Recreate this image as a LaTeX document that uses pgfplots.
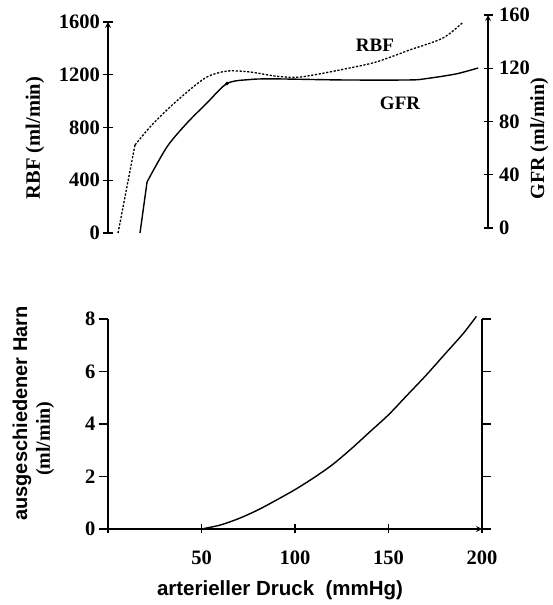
\documentclass[border=0pt]{standalone}
\usepackage{fontspec}
\setmainfont{Liberation Serif}
\setsansfont{Liberation Sans}
\usepackage{pgfplots}
\pgfplotsset{compat=1.18}

\pgfplotsset{
  phys/.style={
    scale only axis,
    axis line style={-, line width=1.6pt},
    x axis line style={-}, y axis line style={-},
    every outer x axis line/.append style={-},
    every inner x axis line/.append style={-},
    major tick style={line width=1.4pt, black},
    major tick length=9pt,
    tick align=outside,
    ticklabel style={font=\bfseries\fontsize{20.5}{22}\selectfont},
    /pgf/number format/assume math mode=true,
    /pgf/number format/1000 sep={},
    clip=false,
  },
}

\begin{document}
\begin{tikzpicture}
\useasboundingbox (0pt,0pt) rectangle (552pt,605pt);

% oberes Diagramm: RBF (linke Achse)
\begin{axis}[phys,
  at={(108pt,372pt)}, width=380pt, height=211pt,
  xmin=0, xmax=204.3, ymin=0, ymax=1600,
  axis x line=none, axis y line=left,
  ytick={0,400,800,1200,1600},
]
\addplot[black, line width=1.3pt, dash pattern=on 2.2pt off 1.6pt] coordinates {
  (5.4,0)(14.5,667)
};
\addplot[black, line width=1.3pt, dash pattern=on 2.2pt off 1.6pt, smooth, tension=0.5] coordinates {
  (14.5,667)(22.6,804)(31.7,933)(42.5,1069)(53.2,1183)(64,1228)(76.3,1221)
  (89.8,1190)(100,1180)(108,1192)(126,1240)(144,1296)(162,1387)(180,1478)(191,1600)
};
\node[font=\bfseries\fontsize{19}{21}\selectfont] at (axis cs:143.5,1425) {RBF};
\node[font=\bfseries\fontsize{20.5}{22}\selectfont, rotate=90]
  at (axis description cs:-0.192,0.45) {RBF (ml/min)};
\end{axis}

% oberes Diagramm: GFR (rechte Achse)
\begin{axis}[phys,
  at={(108pt,377pt)}, width=380pt, height=213pt,
  xmin=0, xmax=204.3, ymin=0, ymax=160,
  axis x line=none, axis y line=right,
  ytick={0,40,80,120,160},
  yticklabel style={xshift=3pt},
]
\addplot[black, line width=1.4pt] coordinates {
  (17.2,-3.8)(21,34.6)
};
\addplot[black, line width=1.4pt, smooth, tension=0.5] coordinates {
  (21,34.6)(31.7,60.9)(42.5,78.9)(53.2,93.9)(64,108.5)(76,111.5)(89.8,112)
  (126,111.2)(162,111.2)(171,112.2)(187,115.7)(199,120.2)
};
\addplot[black, only marks, mark=*, mark size=1.6pt] coordinates {(64,108.5)};
\node[font=\bfseries\fontsize{19}{21}\selectfont] at (axis cs:157,94) {GFR};
\node[font=\bfseries\fontsize{20}{22}\selectfont, rotate=90]
  at (axis description cs:1.135,0.42) {GFR (ml/min)};
\end{axis}

% unteres Diagramm: ausgeschiedener Harn
\begin{axis}[phys,
  at={(108pt,76pt)}, width=374pt, height=210pt,
  xmin=0, xmax=200, ymin=0, ymax=8,
  axis x line=bottom, axis y line=box,
  xtick={0,50,100,150,200}, xticklabels={,50,100,150,200},
  xticklabel style={yshift=-14pt},
  ytick={0,2,4,6,8}, yticklabel pos=left,
]
\addplot[black, line width=1.4pt, smooth] coordinates {
  (50,0)(60,0.15)(70,0.4)(80,0.72)(90,1.1)(100,1.5)(110,1.95)(120,2.45)
  (130,3.05)(140,3.7)(150,4.35)(160,5.1)(170,5.85)(180,6.65)(190,7.45)(197,8.1)
};
\node[font=\sffamily\bfseries\fontsize{20}{22}\selectfont, rotate=90]
  at (axis description cs:-0.23,0.55) {ausgeschiedener Harn};
\node[font=\bfseries\fontsize{20}{22}\selectfont, rotate=90]
  at (axis description cs:-0.168,0.43) {(ml/min)};
\node[font=\sffamily\bfseries\fontsize{20.5}{22}\selectfont]
  at (axis description cs:0.46,-0.29) {arterieller Druck\ \ (mmHg)};
\end{axis}
\end{tikzpicture}
\end{document}
